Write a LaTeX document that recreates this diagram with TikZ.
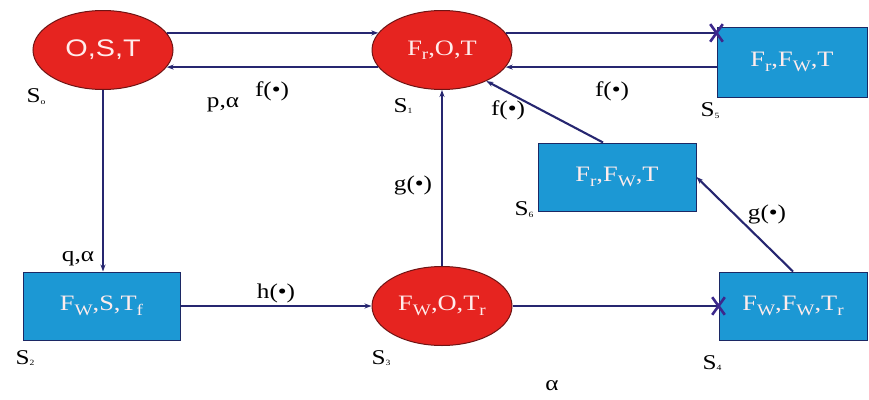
\documentclass[tikz,border=0pt]{standalone}
\usepackage{fontspec}
\setmainfont{Liberation Serif}[FakeStretch=1.2]
\newfontfamily\arialfont{Liberation Sans}[FakeStretch=1.2]
\usetikzlibrary{arrows.meta,shapes.geometric,shapes.misc}
\definecolor{statered}{RGB}{230,36,32}
\definecolor{stateline}{RGB}{110,20,20}
\definecolor{blockblue}{RGB}{28,152,212}
\definecolor{blockline}{RGB}{28,40,100}
\definecolor{linkblue}{RGB}{38,38,112}
\definecolor{crossblue}{RGB}{60,40,140}
\definecolor{statetext}{RGB}{255,236,236}
% state name with a very small index
\newcommand{\stname}[1]{S{\fontsize{8}{8}\selectfont\raisebox{-0.5ex}{#1}}}
% index inside a state, a little larger and lower
\newcommand{\sidx}[1]{\raisebox{-0.45ex}{\fontsize{16}{16}\selectfont #1}}

\begin{document}
\begin{tikzpicture}[x=1pt,y=-1pt,>={Stealth[length=7pt,width=5pt]},
  state/.style={ellipse,draw=stateline,fill=statered,line width=1pt,
    minimum width=140pt,minimum height=79pt,inner sep=0pt,text=statetext,
    font=\fontsize{22}{22}\selectfont},
  block/.style={rectangle,draw=blockline,fill=blockblue,line width=1pt,
    minimum height=68pt,inner sep=0pt,text=statetext,
    font=\fontsize{22}{22}\selectfont},
  link/.style={draw=linkblue,line width=2.1pt},
  lbl/.style={font=\fontsize{21}{21}\selectfont},
  xmark/.style={cross out,draw=crossblue,line width=2.6pt,
    minimum width=10pt,minimum height=15pt,inner sep=0pt}]
  \useasboundingbox (0,0) rectangle (869,399);

  % The states: ellipses and boxes.
  \node[state,font=\arialfont\fontsize{24}{24}\selectfont] (s0) at (103,50) {O,S,T};
  \node[state] (s1) at (442,50) {F\sidx{r},O,T};
  \node[block,minimum width=150pt,minimum height=70pt] (s5) at (792,62)
    {F\sidx{r},F\sidx{W},T};
  \node[block,minimum width=158pt] (s6) at (617,177)
    {F\sidx{r},F\sidx{W},T};
  \node[block,minimum width=157pt] (s2) at (101.5,306)
    {F\sidx{W},S,T\sidx{f}};
  \node[state] (s3) at (442,306) {F\sidx{W},O,T\sidx{r}};
  \node[block,minimum width=148pt] (s4) at (793,306)
    {F\sidx{W},F\sidx{W},T\sidx{r}};

  % Transitions of the top row.
  \draw[link,->] (s0.15) -- (s1.165);
  \draw[link,->] (s1.-165) -- (s0.-15);
  \coordinate (x5) at (s5.west |- s1.15);
  \draw[link] (s1.15) -- (x5);
  \node[xmark] (c5) at (x5) {};
  \draw[link,->] (s5.west |- s1.-15) -- (s1.-15);

  % Transitions into and out of the lower states.
  \draw[link,->] (s6.112) -- (s1.-35);
  \draw[link,->] (s4.north) -- (s6.east);
  \draw[link,->] (s3.north) -- (s1.south);
  \draw[link,->] (s0.south) -- (s0.south |- s2.north);
  \draw[link,->] (s2.east) -- (s3.west);
  \coordinate (x4) at (s4.west |- s3.east);
  \draw[link] (s3.east) -- (x4);
  \node[xmark] (c4) at (x4) {};

  % Transition labels.
  \node[lbl] (lp) at (223,105) {p,α};
  \node[lbl] (lf0) at (272,91) {f(\textbullet)};
  \node[lbl] (lf1) at (508,110) {f(\textbullet)};
  \node[lbl] (lf5) at (612,91) {f(\textbullet)};
  \node[lbl] (lg6) at (767,214) {g(\textbullet)};
  \node[lbl] (lg3) at (413,185) {g(\textbullet)};
  \node[lbl] (lq) at (78,259) {q,α};
  \node[lbl] (lh) at (276,293) {h(\textbullet)};
  \node[lbl] (la) at (552,386) {α};

  % State names.
  \node[lbl] (n0) at (36,97) {\stname{o}};
  \node[lbl] (n1) at (403,106) {\stname{1}};
  \node[lbl] (n5) at (710,111) {\stname{5}};
  \node[lbl] (n6) at (524,210) {\stname{6}};
  \node[lbl] (n2) at (25,358) {\stname{2}};
  \node[lbl] (n3) at (381,358) {\stname{3}};
  \node[lbl] (n4) at (712,363) {\stname{4}};
\end{tikzpicture}
\end{document}
